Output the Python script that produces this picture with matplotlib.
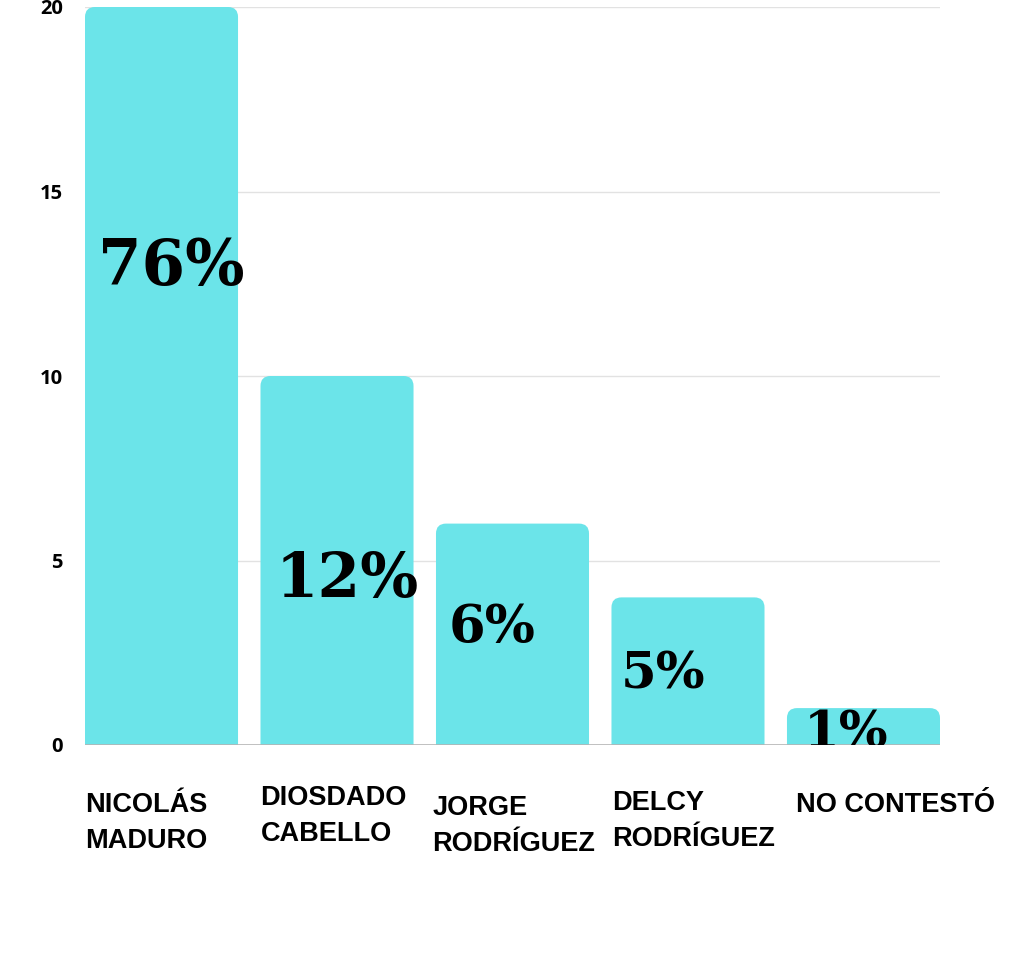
import matplotlib
matplotlib.use("Agg")
import matplotlib.pyplot as plt
import matplotlib.transforms as mtransforms
from matplotlib.patches import FancyBboxPatch

# datos de la encuesta
categorias = ["NICOLÁS\nMADURO", "DIOSDADO\nCABELLO", "JORGE\nRODRÍGUEZ",
              "DELCY\nRODRÍGUEZ", "NO CONTESTÓ"]
valores = [20, 10, 6, 4, 1]
porcentajes = ["76%", "12%", "6%", "5%", "1%"]
yticks = [0, 5, 10, 15, 20]

color_barra = "#6be4e9"
ancho = 0.872

fig = plt.figure(figsize=(10.24, 9.73), dpi=100)
ax = fig.add_axes([85 / 1024, 1 - 745 / 973, 855 / 1024, 738 / 973])
ax.set_xlim(-0.436, len(valores) - 1 + 0.436)
ax.set_ylim(0, 20)

# barras con esquinas superiores redondeadas (la parte de abajo queda recortada)
r = 0.057
for i, v in enumerate(valores):
    p = FancyBboxPatch((i - ancho / 2, -1), ancho, v + 1,
                       boxstyle="round,pad=0,rounding_size=%f" % r,
                       mutation_aspect=4.75, facecolor=color_barra,
                       edgecolor="none", zorder=2)
    ax.add_patch(p)

for y in yticks[1:]:
    ax.axhline(y, color="#e2e2e2", lw=1, zorder=1)
ax.axhline(0, color="#b5b5b5", lw=1.2, zorder=3)

for s in ax.spines.values():
    s.set_visible(False)
ax.set_xticks([])
ax.set_yticks(yticks)
ax.tick_params(axis="y", length=0, pad=16)
for t in ax.get_yticklabels():
    t.set_fontfamily(["Open Sans", "DejaVu Sans"])
    t.set_fontweight("bold")
    t.set_fontsize(14.5)

# porcentajes dentro de las barras
base_y = [12.47, 4.01, 2.79, 1.54, -0.08]
tam = [45, 44, 38, 37, 37]
dx_pct = [0.075, 0.085, 0.07, 0.055, 0.095]
for i, txt in enumerate(porcentajes):
    ax.text(i - ancho / 2 + dx_pct[i], base_y[i], txt, ha="left", va="baseline",
            fontsize=tam[i], fontweight="bold", family="DejaVu Serif",
            color="black", zorder=4, clip_on=True)

# etiquetas de categoria (una linea por texto)
trans = mtransforms.blended_transform_factory(ax.transData, fig.transFigure)
dx = [0.0, 0.0, -0.02, 0.005, 0.05]
base_px = [812, 805, 815, 810, 812]
for i, lab in enumerate(categorias):
    for k, linea in enumerate(lab.split("\n")):
        ax.text(i - ancho / 2 + dx[i], 1 - (base_px[i] + 36 * k) / 973, linea,
                transform=trans, ha="left", va="baseline", fontsize=19.5,
                fontweight="bold", family=["Liberation Sans", "DejaVu Sans"],
                color="black")

fig.savefig("out.png", dpi=100, facecolor="white")
